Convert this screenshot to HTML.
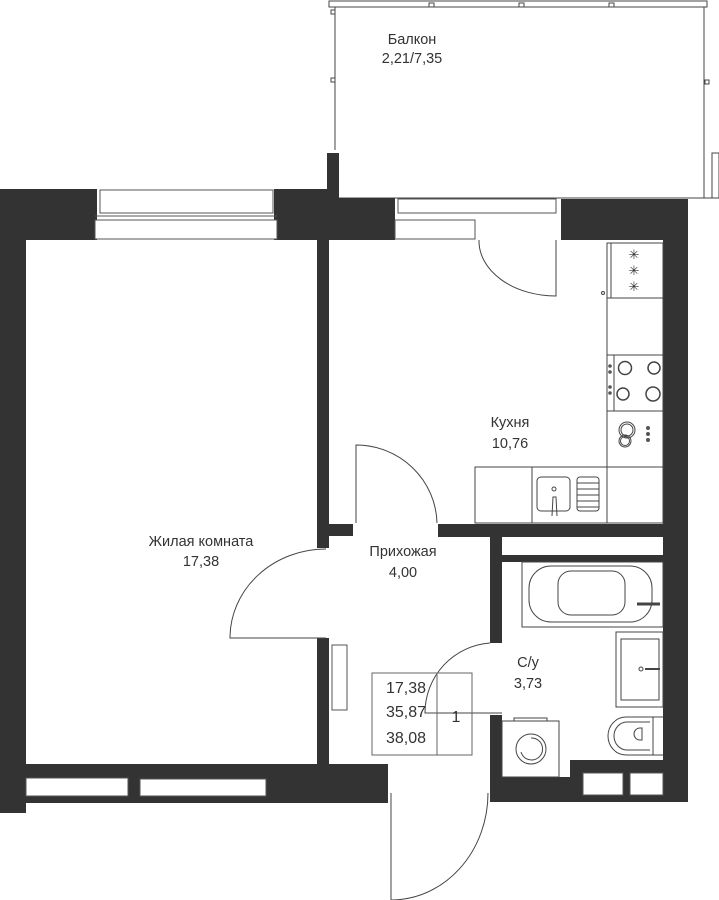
<!DOCTYPE html>
<html><head><meta charset="utf-8"><style>
html,body{margin:0;padding:0;background:#fff;}
svg{display:block;}
text{font-family:"Liberation Sans",sans-serif;font-size:14.5px;fill:#333;text-anchor:middle;}
</style></head><body>
<svg width="719" height="900" viewBox="0 0 719 900" xmlns="http://www.w3.org/2000/svg">
<g fill="none" stroke="#444" stroke-width="1">
<rect x="329" y="1" width="378" height="6"/>
<line x1="335" y1="7" x2="335" y2="150"/>
<line x1="704" y1="7" x2="704" y2="198"/>
<line x1="339" y1="198" x2="719" y2="198"/>
<rect x="712" y="153" width="7" height="45"/>
<rect x="429" y="3" width="5" height="4"/><rect x="519" y="3" width="5" height="4"/><rect x="609" y="3" width="5" height="4"/>
<rect x="331" y="10" width="4" height="4"/><rect x="331" y="78" width="4" height="4"/><rect x="705" y="80" width="4" height="4"/>
</g>
<g fill="#333">
<rect x="327" y="153" width="12" height="46"/>
<rect x="0" y="189" width="97" height="51"/>
<rect x="274" y="189" width="65" height="51"/>
<rect x="327" y="198" width="68" height="42"/>
<rect x="561" y="199" width="127" height="41"/>
<rect x="0" y="189" width="26" height="624"/>
<rect x="317" y="240" width="12" height="308"/>
<rect x="317" y="638" width="12" height="126"/>
<rect x="329" y="524" width="24" height="12"/>
<rect x="438" y="524" width="250" height="13"/>
<rect x="663" y="199" width="25" height="603"/>
<rect x="490" y="537" width="12" height="106"/>
<rect x="502" y="555" width="161" height="7"/>
<rect x="490" y="715" width="12" height="87"/>
<rect x="490" y="777" width="100" height="25"/>
<rect x="570" y="760" width="118" height="42"/>
<rect x="0" y="764" width="388" height="39"/>
</g>
<g fill="#fff" stroke="#555" stroke-width="1">
<rect x="100" y="190" width="173" height="23"/>
<rect x="95" y="220" width="182" height="19"/>
<line x1="95" y1="216" x2="277" y2="216"/>
<rect x="398" y="199" width="158" height="14"/>
<rect x="395" y="220" width="80" height="19"/>
<rect x="26" y="778" width="102" height="18"/>
<rect x="140" y="779" width="126" height="17"/>
<rect x="583" y="773" width="40" height="22"/>
<rect x="630" y="773" width="33" height="22"/>
<rect x="332" y="645" width="15" height="65"/>
</g>
<g fill="none" stroke="#444" stroke-width="1">
<path d="M479 240 A77 55 0 0 0 556 296 L556 240"/>
<path d="M356 523 L356 445 A81 80 0 0 1 437 523"/>
<path d="M326 549 A96 89 0 0 0 230 638 L326 638"/>
<path d="M490 643 A70 70 0 0 0 425 713 L502 713"/>
<path d="M391 793 L391 900 A97 107 0 0 0 488 793"/>
<rect x="607" y="243" width="56" height="280"/>
<line x1="607" y1="298" x2="663" y2="298"/>
<line x1="607" y1="355" x2="663" y2="355"/>
<line x1="607" y1="411" x2="663" y2="411"/>
<line x1="607" y1="467" x2="663" y2="467"/>
<line x1="611" y1="243" x2="611" y2="298"/>
<line x1="614" y1="355" x2="614" y2="411"/>
<circle cx="603" cy="293" r="1.5"/>
<circle cx="625" cy="368" r="6.5" stroke-width="1.5"/><circle cx="654" cy="368" r="6" stroke-width="1.5"/>
<circle cx="623" cy="394" r="6" stroke-width="1.5"/><circle cx="653" cy="394" r="7" stroke-width="1.5"/>
<circle cx="627" cy="430" r="8"/><circle cx="627" cy="430" r="6"/><circle cx="625" cy="441" r="6"/><circle cx="625" cy="441" r="4.5"/>
<rect x="475" y="467" width="132" height="56"/>
<line x1="532" y1="467" x2="532" y2="523"/>
<rect x="537" y="477" width="33" height="34" rx="4"/>
<rect x="577" y="477" width="22" height="34" rx="3"/>
<line x1="577" y1="483" x2="599" y2="483"/><line x1="577" y1="489" x2="599" y2="489"/><line x1="577" y1="495" x2="599" y2="495"/><line x1="577" y1="501" x2="599" y2="501"/><line x1="577" y1="507" x2="599" y2="507"/>
<circle cx="554" cy="489" r="2"/><path d="M552 516 L553 497 L556 497 L557 516"/>
<rect x="522" y="562" width="141" height="65"/>
<rect x="529" y="566" width="123" height="56" rx="22"/>
<rect x="558" y="571" width="67" height="44" rx="13"/>
<line x1="637" y1="604" x2="660" y2="604" stroke-width="3"/>
<rect x="616" y="632" width="47" height="75"/>
<rect x="621" y="639" width="38" height="61"/>
<circle cx="641" cy="669" r="2"/><line x1="645" y1="669" x2="660" y2="669" stroke-width="2"/>
<path d="M653 717 L626 717 A18 19 0 0 0 626 755 L653 755 Z"/>
<path d="M650 722 L627 722 A13 14 0 0 0 627 750 L650 750"/>
<path d="M640 728 A5 5 0 0 0 640 740 L642 740 L642 728 Z"/>
<line x1="653" y1="717" x2="663" y2="717"/><line x1="653" y1="755" x2="663" y2="755"/>
<rect x="502" y="721" width="57" height="56"/>
<rect x="514" y="718" width="33" height="3"/>
<circle cx="531" cy="749" r="15"/>
<path d="M521 752 A11 11 0 1 0 531 738"/>
<rect x="372" y="673" width="100" height="82" stroke="#666"/>
<line x1="437" y1="673" x2="437" y2="755" stroke="#666"/>
</g>
<g fill="#555">
<text x="634" y="259" style="font-size:13px">✳</text>
<text x="634" y="275" style="font-size:13px">✳</text>
<text x="634" y="291" style="font-size:13px">✳</text>
<circle cx="610" cy="366" r="1.8"/><circle cx="610" cy="372" r="1.8"/><circle cx="610" cy="387" r="1.8"/><circle cx="610" cy="393" r="1.8"/>
<circle cx="648" cy="428" r="2"/><circle cx="648" cy="434" r="2"/><circle cx="648" cy="440" r="2"/>
</g>
<text x="412" y="44">Балкон</text>
<text x="412" y="63">2,21/7,35</text>
<text x="510" y="427">Кухня</text>
<text x="510" y="448">10,76</text>
<text x="201" y="546">Жилая комната</text>
<text x="201" y="566">17,38</text>
<text x="403" y="556">Прихожая</text>
<text x="403" y="577">4,00</text>
<text x="528" y="667">С/у</text>
<text x="528" y="688">3,73</text>
<text x="406" y="693" style="font-size:16px">17,38</text>
<text x="406" y="717" style="font-size:16px">35,87</text>
<text x="406" y="743" style="font-size:16px">38,08</text>
<text x="456" y="722" style="font-size:16px">1</text>
</svg>
</body></html>
